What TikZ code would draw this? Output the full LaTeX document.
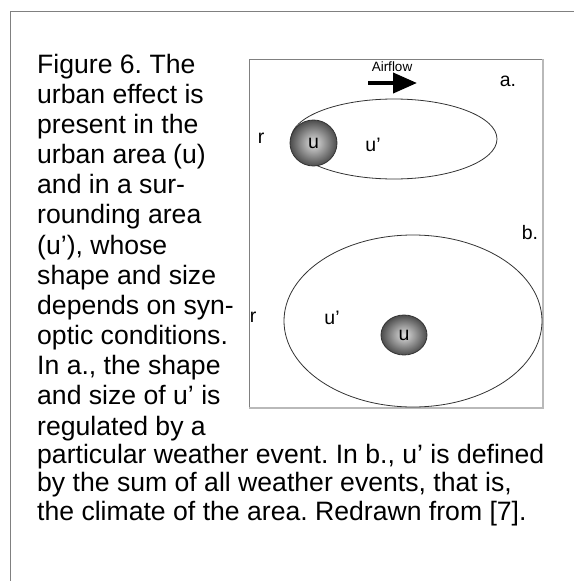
\documentclass[tikz,border=0pt]{standalone}
\usepackage{fontspec}
\setmainfont{Liberation Sans}
\usetikzlibrary{arrows.meta,positioning,shapes.geometric}
\frenchspacing

\begin{document}
\begin{tikzpicture}[x=1pt, y=-1pt,
		caption/.style={anchor=base west, inner sep=0pt, font=\fontsize{26.6}{30}\selectfont},
		lbl/.style={inner sep=0pt, font=\fontsize{19.5}{23}\selectfont},
		zone/.style={draw=black!80, line width=0.8pt, ellipse, inner sep=0pt},
		core/.style={zone, inner color=gray!25, outer color=black!70, font=\fontsize{19.5}{23}\selectfont}]
		\useasboundingbox (0,0) rectangle (574,581);
		
		% Frame
		\draw[gray, line width=1pt] (10,581) -- (10,11) -- (574,11);
		\draw[gray, line width=1pt] (249,408) -- (249,59) -- (543,59);
		\draw[gray!55, line width=2pt] (543,59) -- (543,408) -- (249,408);
		
		% Caption
		\foreach \t [count=\i from 0] in {{Figure 6. The}, {urban effect is}, {present in the}, {urban area (u)}, {and in a sur-}, {rounding area}, {(u’), whose}, {shape and size}, {depends on syn-}, {optic conditions.}, {In a., the shape}, {and size of u’ is}, {regulated by a}}
			\node[caption] (l\i) at (37,73+30.17*\i) {\t};
		\node[caption] (p1) at (37,463) {particular weather event. In b., u’ is defined};
		\node[caption] (p2) at (37,491.5) {by the sum of all weather events, that is,};
		\node[caption] (p3) at (37,520) {the climate of the area. Redrawn from [7].};
		
		% Panel a.
		\node[zone, minimum width=206, minimum height=80] (za) at (394,139) {};
		\node[core, minimum width=47, minimum height=46] (ua) at (313.5,143) {u};
		\node[lbl] (ra) at (261,138) {r};
		\node[lbl] (uza) at (373,145) {u’};
		\node[lbl] (a) at (508,81) {a.};
		\node[inner sep=0pt, font=\fontsize{13.5}{16}\selectfont] (air) at (392,67) {Airflow};
		\coordinate (fa) at (368,83);
		\coordinate (fb) at (417,83);
		\draw[line width=4pt, -{Triangle[length=24pt, width=20pt]}] (fa) -- (fb);
		
		% Panel b.
		\node[zone, minimum width=258, minimum height=172] (zb) at (413,321) {};
		\node[core, minimum width=46, minimum height=40] (ub) at (404,335) {u};
		\node[lbl] (rb) at (253,317) {r};
		\node[lbl] (uzb) at (332,318) {u’};
		\node[lbl] (b) at (530,233) {b.};
	\end{tikzpicture}
\end{document}
